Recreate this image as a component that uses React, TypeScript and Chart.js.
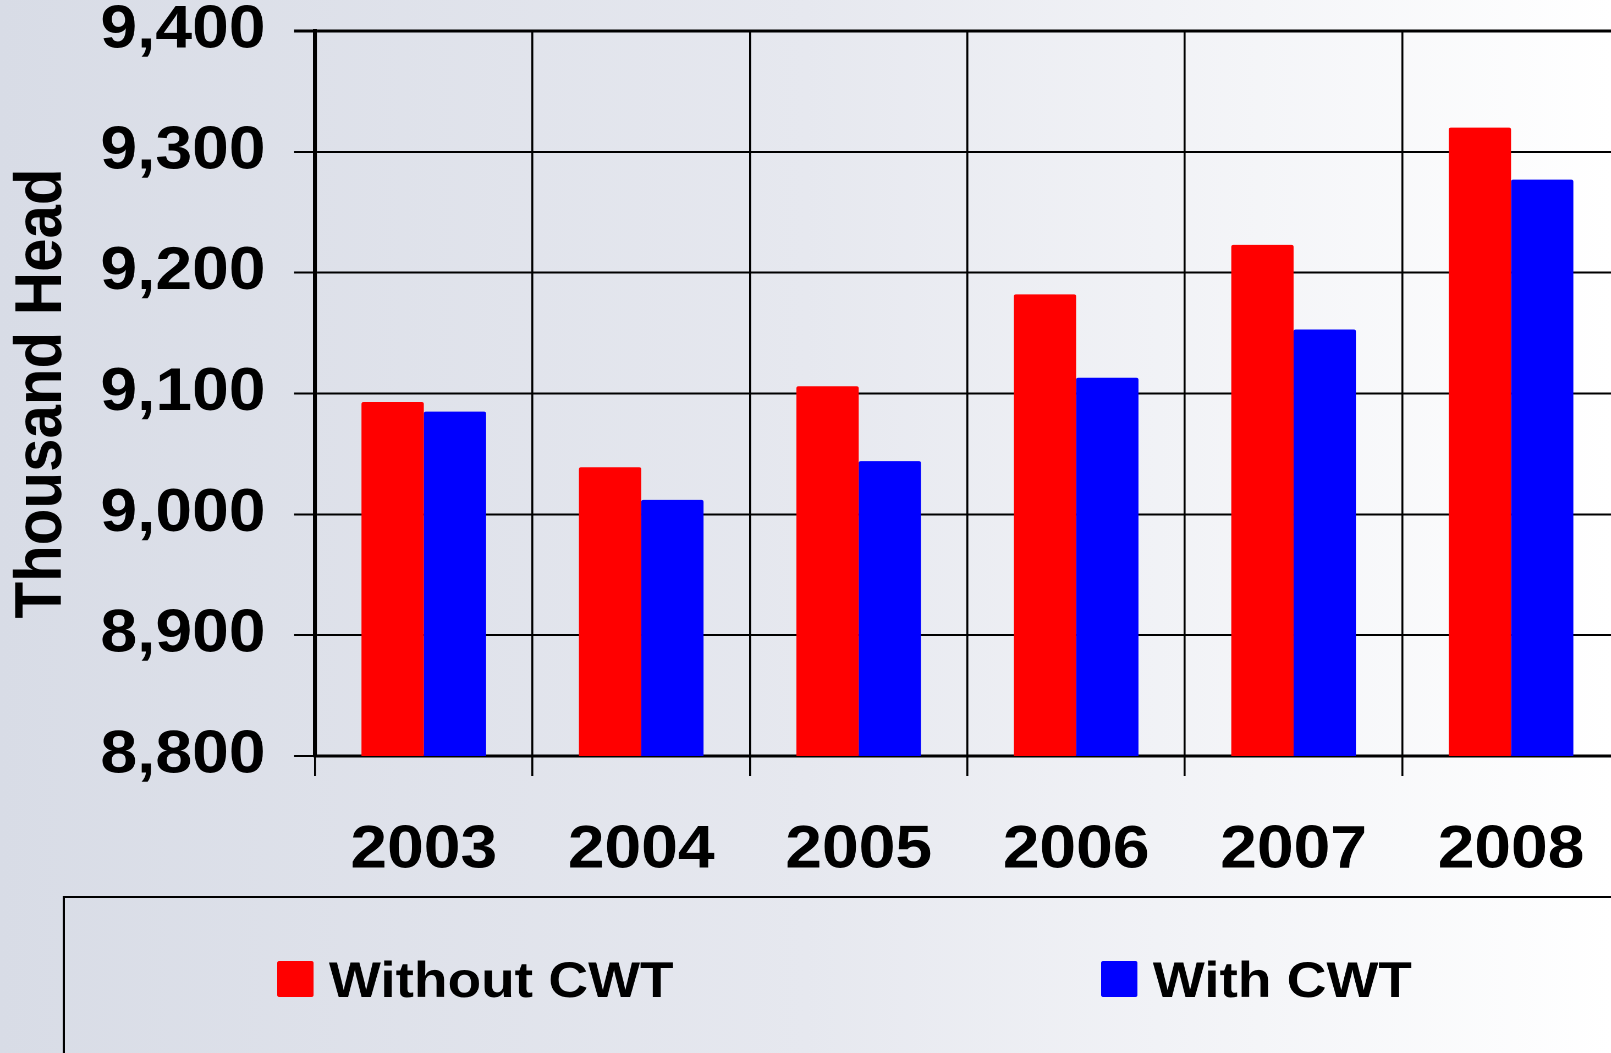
import React, { useEffect, useRef } from "react";
import { Chart, registerables } from "chart.js";

Chart.register(...registerables);

const categories = ["2003", "2004", "2005", "2006", "2007", "2008"];
const withoutCwt = [9093, 9039, 9106, 9182, 9223, 9320];
const withCwt = [9085, 9012, 9044, 9113, 9153, 9277];
const seriesLabels = ["Without CWT", "With CWT"];
const seriesColors = ["#ff0000", "#0000ff"];
const yTickValues = [8800, 8900, 9000, 9100, 9200, 9300, 9400];

const FONT = "'Liberation Sans', Arial, sans-serif";
const SX = 1.1; // horizontal stretch of the reference
const CW = 1480;
const CH = 1053;

const legendBoxPlugin = {
  id: "legendBox",
  afterDraw(chart: any) {
    const ctx = chart.ctx;
    ctx.save();
    ctx.strokeStyle = "#000";
    ctx.lineWidth = 2;
    ctx.strokeRect(58, 897, 3000, 1000);
    const xs = [252, 1001];
    chart.data.datasets.forEach((ds: any, i: number) => {
      const x = xs[i];
      ctx.fillStyle = ds.backgroundColor;
      ctx.beginPath();
      (ctx as any).roundRect(x, 961, 33, 36, 2);
      ctx.fill();
      ctx.fillStyle = "#000";
      ctx.font = `bold 50px ${FONT}`;
      ctx.textBaseline = "alphabetic";
      ctx.textAlign = "left";
      ctx.fillText(ds.label, x + 47, 997);
    });
    ctx.restore();
  },
};

export default function App() {
  const ref = useRef<HTMLCanvasElement>(null);
  useEffect(() => {
    document.documentElement.style.overflow = "hidden";
    document.body.style.overflow = "hidden";
    const chart = new Chart(ref.current!, {
      type: "bar",
      data: {
        labels: categories,
        datasets: [
          {
            label: seriesLabels[0],
            data: withoutCwt,
            backgroundColor: seriesColors[0],
            borderRadius: { topLeft: 2, topRight: 2 },
            borderSkipped: "start",
          },
          {
            label: seriesLabels[1],
            data: withCwt,
            backgroundColor: seriesColors[1],
            borderRadius: { topLeft: 2, topRight: 2 },
            borderSkipped: "start",
          },
        ],
      },
      options: {
        animation: false,
        responsive: false,
        devicePixelRatio: 2,
        categoryPercentage: 0.573,
        barPercentage: 1.0,
        layout: { padding: { top: 31, right: 7, bottom: 177, left: 0 } },
        plugins: {
          legend: { display: false },
          tooltip: { enabled: false },
        },
        scales: {
          x: {
            grid: {
              display: true,
              offset: true,
              color: "#000",
              lineWidth: 1.8,
              tickLength: 20,
            },
            border: { display: true, color: "#000", width: 3 },
            ticks: {
              color: "#000",
              padding: 39,
              font: { family: FONT, size: 60, weight: "bold", lineHeight: 1.2 },
            },
            afterFit(scale: any) {
              scale.height = 120;
            },
          },
          y: {
            min: 8800,
            max: 9400,
            afterBuildTicks(scale: any) {
              scale.ticks = yTickValues.map((v) => ({ value: v }));
            },
            grid: {
              color: "#000",
              lineWidth: (c: any) => (c.tick && c.tick.value === 9400 ? 3 : 2),
              tickLength: 19,
            },
            border: { display: true, color: "#000", width: 3.6 },
            ticks: {
              color: "#000",
              padding: 26,
              font: { family: FONT, size: 60, weight: "bold", lineHeight: 1.0 },
              callback: (v: any) => Number(v).toLocaleString("en-US"),
            },
            title: {
              display: true,
              text: "Thousand Head",
              color: "#000",
              padding: { top: 3, bottom: 0 },
              font: { family: FONT, size: 60, weight: "bold", lineHeight: 1.2 },
            },
            afterFit(scale: any) {
              scale.width = 286.4;
              scale.paddingTop = 30;
              scale.paddingBottom = 30;
            },
          },
        },
      },
      plugins: [legendBoxPlugin],
    });
    return () => chart.destroy();
  }, []);

  return (
    <div
      style={{
        position: "fixed",
        left: 0,
        top: 0,
        width: "100vw",
        height: "100vh",
        overflow: "hidden",
        background: "linear-gradient(to right, #d8dce6 0%, #e6e8ef 50%, #ffffff 100%)",
      }}
    >
      <div
        style={{
          position: "absolute",
          left: 0,
          top: 0,
          width: CW,
          height: CH,
          transform: `scaleX(${SX})`,
          transformOrigin: "0 0",
        }}
      >
        <canvas ref={ref} width={CW} height={CH} style={{ display: "block" }} />
      </div>
    </div>
  );
}
